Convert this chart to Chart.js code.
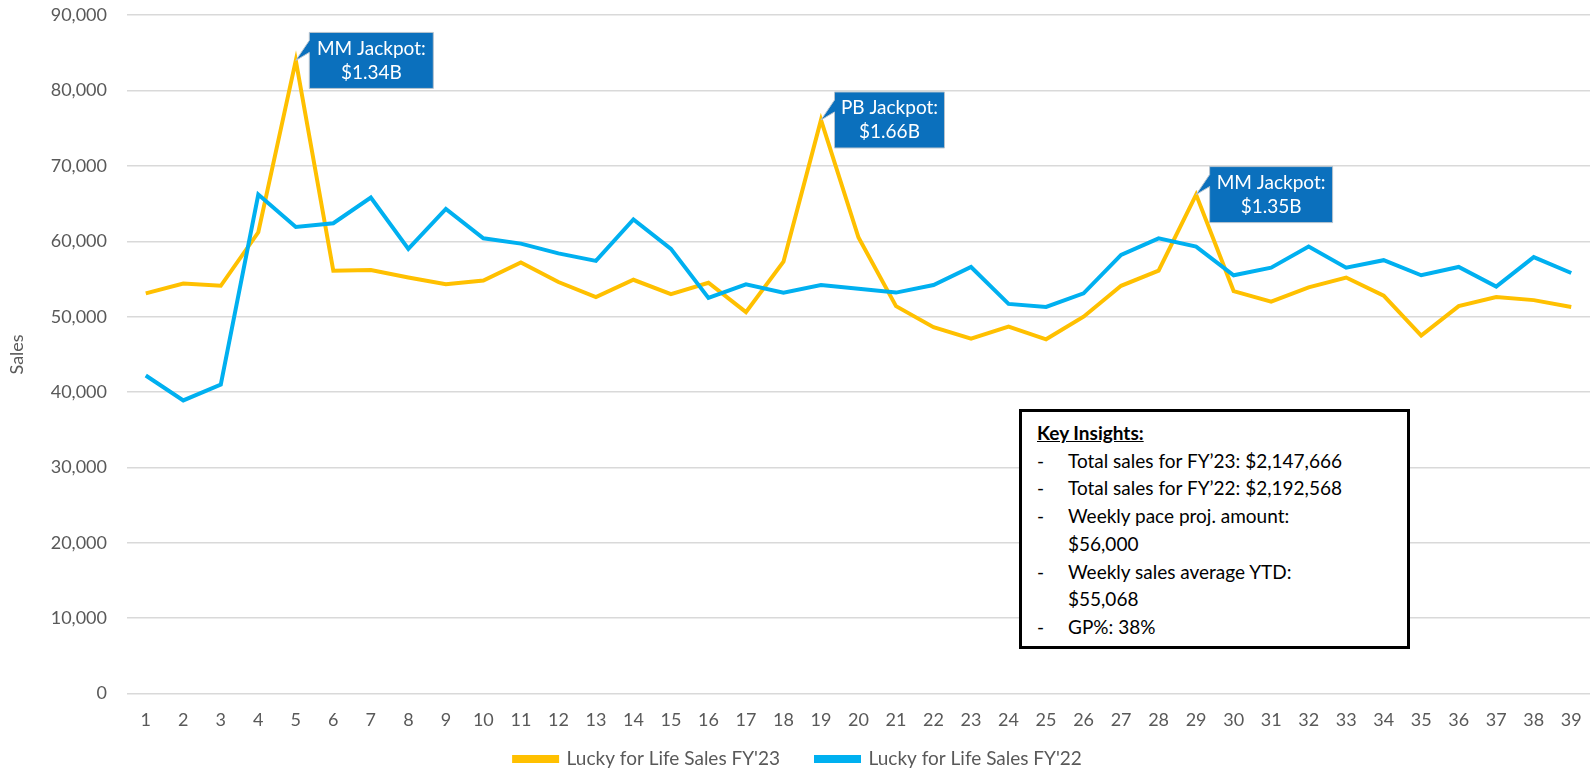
<!DOCTYPE html>
<html>
<head>
<meta charset="utf-8">
<script src="https://cdn.jsdelivr.net/npm/chart.js@4.4.0/dist/chart.umd.min.js"></script>
<style>
  html, body { margin: 0; padding: 0; background: #fff; }
  #wrap { position: relative; width: 1592px; height: 770px; }
  #insights {
    position: absolute; left: 1019px; top: 409px; width: 370px; height: 227px;
    border: 3px solid #000; background: #fff;
    font-family: Lato, "Open Sans", sans-serif; font-size: 19px; color: #000;
    line-height: 27.7px; padding: 7px 0 0 15px; box-sizing: content-box;
  }
  #insights .head { font-weight: bold; text-decoration: underline; }
  #insights .row { position: relative; padding-left: 31px; }
  #insights .row::before { content: "-"; position: absolute; left: 0; top: 0; }
</style>
</head>
<body>
<div id="wrap">
  <canvas id="chart" width="1592" height="770"></canvas>
  <div id="insights">
    <div class="head">Key Insights:</div>
    <div class="row">Total sales for FY’23: $2,147,666</div>
    <div class="row">Total sales for FY’22: $2,192,568</div>
    <div class="row">Weekly pace proj. amount:<br>$56,000</div>
    <div class="row">Weekly sales average YTD:<br>$55,068</div>
    <div class="row">GP%: 38%</div>
  </div>
</div>
<script>
// week numbers on the x axis
const weeks = ['1','2','3','4','5','6','7','8','9','10','11','12','13','14','15','16','17','18','19','20',
  '21','22','23','24','25','26','27','28','29','30','31','32','33','34','35','36','37','38','39'];

const salesFY23 = [53100, 54400, 54100, 61200, 84000, 56100, 56200, 55200, 54300, 54800,
  57200, 54600, 52600, 54900, 53000, 54500, 50600, 57300, 76100, 60500,
  51400, 48600, 47100, 48700, 47000, 50000, 54100, 56100, 66200, 53400,
  52000, 53900, 55200, 52800, 47500, 51400, 52600, 52200, 51300];

const salesFY22 = [42200, 38900, 41000, 66200, 61900, 62400, 65800, 59000, 64300, 60400,
  59700, 58400, 57400, 62900, 59000, 52500, 54300, 53200, 54200, 53700,
  53200, 54200, 56600, 51700, 51300, 53100, 58200, 60400, 59300, 55500,
  56500, 59300, 56500, 57500, 55500, 56600, 54000, 57900, 55800];

const seriesNames = ["Lucky for Life Sales FY'23", "Lucky for Life Sales FY'22"];
const yTicks = [0, 10000, 20000, 30000, 40000, 50000, 60000, 70000, 80000, 90000];

// jackpot callouts: which FY'23 week they point at, and their text
const calloutWeeks = [4, 18, 28];
const calloutText = [['MM Jackpot:', '$1.34B'], ['PB Jackpot:', '$1.66B'], ['MM Jackpot:', '$1.35B']];
const calloutWidths = [124, 110, 123];

const FONT = 'Lato, "Open Sans", sans-serif';
const GREY_TEXT = '#595959';

const callouts = {
  id: 'callouts',
  afterDatasetsDraw(chart) {
    const ctx = chart.ctx;
    const meta = chart.getDatasetMeta(0);
    calloutWeeks.forEach((wk, i) => {
      const pt = meta.data[wk];
      const bx = pt.x + 13.5, by = pt.y - 28, bw = calloutWidths[i], bh = 56;
      ctx.save();
      ctx.fillStyle = '#0B70BD';
      ctx.strokeStyle = '#B8C4CE';
      ctx.lineWidth = 1;
      ctx.beginPath();
      ctx.moveTo(bx, by);
      ctx.lineTo(bx + bw, by);
      ctx.lineTo(bx + bw, by + bh);
      ctx.lineTo(bx, by + bh);
      ctx.lineTo(bx, by + 20);
      ctx.lineTo(pt.x, pt.y);
      ctx.lineTo(bx, by + 8);
      ctx.closePath();
      ctx.fill();
      ctx.stroke();
      ctx.fillStyle = '#fff';
      ctx.font = '19px ' + FONT;
      ctx.textAlign = 'center';
      ctx.textBaseline = 'middle';
      ctx.fillText(calloutText[i][0], bx + bw / 2, by + 16);
      ctx.fillText(calloutText[i][1], bx + bw / 2, by + 40);
      ctx.restore();
    });
  }
};

// keep the legend row a fixed distance under the plot
const legendNudge = {
  id: 'legendNudge',
  afterLayout(chart) {
    const h = chart.legend.height;
    chart.legend.top = chart.chartArea.bottom + 20;
    chart.legend.bottom = chart.legend.top + h;
  }
};

new Chart(document.getElementById('chart'), {
  type: 'line',
  data: {
    labels: weeks,
    datasets: [
      {
        label: seriesNames[0],
        data: salesFY23,
        borderColor: '#FFC000',
        backgroundColor: '#FFC000',
        borderWidth: 4,
        pointRadius: 0,
        tension: 0,
        order: 2
      },
      {
        label: seriesNames[1],
        data: salesFY22,
        borderColor: '#00B0F0',
        backgroundColor: '#00B0F0',
        borderWidth: 4,
        pointRadius: 0,
        tension: 0,
        order: 1
      }
    ]
  },
  options: {
    responsive: false,
    animation: false,
    layout: { padding: { top: 0, right: 2, left: 6, bottom: -33 } },
    plugins: {
      tooltip: { enabled: false },
      legend: {
        position: 'bottom',
        labels: {
          boxWidth: 43,
          boxHeight: 4,
          padding: 36,
          color: GREY_TEXT,
          font: { family: FONT, size: 19 },
          sort: (a, b) => a.datasetIndex - b.datasetIndex
        }
      }
    },
    scales: {
      x: {
        offset: true,
        grid: { display: false },
        border: { display: false },
        ticks: {
          color: GREY_TEXT,
          font: { family: FONT, size: 18 },
          maxRotation: 0,
          autoSkip: false,
          padding: 7.4
        }
      },
      y: {
        min: 0,
        max: 90000,
        afterBuildTicks(scale) {
          scale.ticks = yTicks.map(v => ({ value: v }));
        },
        afterFit(scale) {
          scale.width = 121;
          scale.paddingTop = 15.2;
          scale.paddingBottom = 11;
        },
        grid: { color: '#D9D9D9', lineWidth: 1.5, drawTicks: false },
        border: { display: false },
        ticks: {
          color: GREY_TEXT,
          font: { family: FONT, size: 18 },
          padding: 20,
          callback: v => v.toLocaleString('en-US')
        },
        title: {
          display: true,
          text: 'Sales',
          color: GREY_TEXT,
          font: { family: FONT, size: 18 },
          padding: { top: 0, bottom: 0 }
        }
      }
    }
  },
  plugins: [callouts, legendNudge]
});
</script>
</body>
</html>
